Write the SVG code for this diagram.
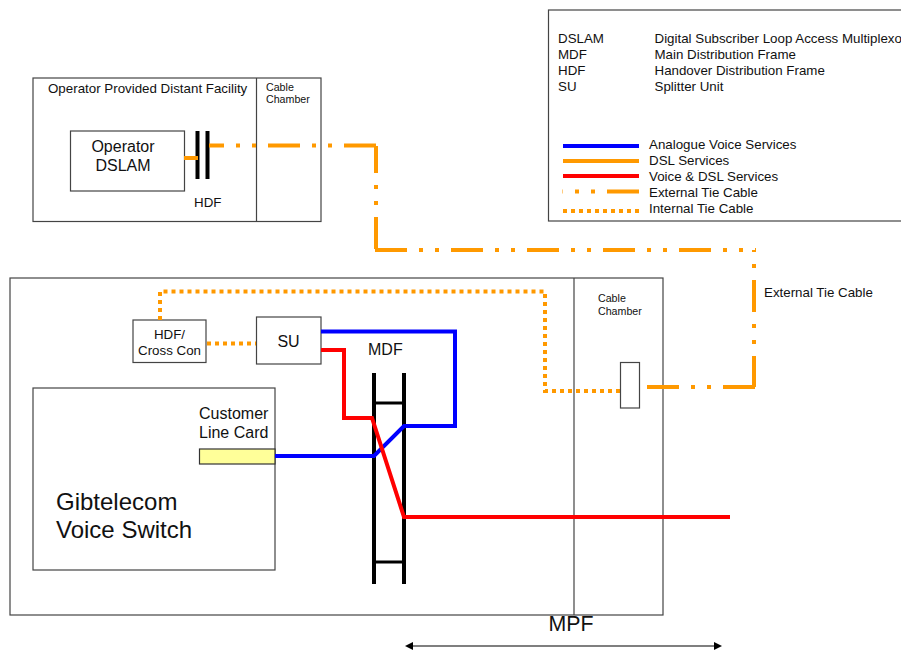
<svg xmlns="http://www.w3.org/2000/svg" width="901" height="650" viewBox="0 0 901 650">
<defs>
<marker id="ah" viewBox="0 0 8 8" refX="0" refY="4" markerWidth="8" markerHeight="8" markerUnits="userSpaceOnUse" orient="auto-start-reverse"><path d="M0 0L8 4L0 8Z" fill="#000"/></marker>
</defs>
<style>
text{font-family:"Liberation Sans",Arial,sans-serif;fill:#111}
.b{fill:#fff;stroke:#444;stroke-width:1.2}
.n{fill:none;stroke:#444;stroke-width:1.2}
.k{fill:none;stroke:#000;stroke-width:4}
.o{fill:none;stroke:#f90;stroke-width:4}
.x{stroke-dasharray:32 12 4 12 4 12}
.d{stroke-dasharray:4 4}
.bl{fill:none;stroke:#00f;stroke-width:4}
.r{fill:none;stroke:#f00;stroke-width:4}
.t13{font-size:13.33px}.t10{font-size:10.67px}.t16{font-size:16px}.t24{font-size:24px}
</style>
<g id="legend">
<rect class="b" x="548.500" y="10" width="360" height="211"/>
<text class="t13" x="558" y="43">DSLAM</text><text class="t13" x="654.500" y="43">Digital Subscriber Loop Access Multiplexor</text>
<text class="t13" x="558" y="59">MDF</text><text class="t13" x="654.500" y="59">Main Distribution Frame</text>
<text class="t13" x="558" y="75">HDF</text><text class="t13" x="654.500" y="75">Handover Distribution Frame</text>
<text class="t13" x="558" y="91">SU</text><text class="t13" x="654.500" y="91">Splitter Unit</text>
<line class="bl" x1="563" y1="146" x2="639" y2="146"/>
<line class="o" x1="563" y1="161" x2="639" y2="161"/>
<line class="r" x1="563" y1="176" x2="639" y2="176"/>
<line class="o x" x1="639" y1="191.500" x2="562.500" y2="191.500"/>
<line class="o d" x1="563" y1="211" x2="640" y2="211"/>
<text class="t13" x="649" y="149">Analogue Voice Services</text>
<text class="t13" x="649" y="165">DSL Services</text>
<text class="t13" x="649" y="181">Voice &amp; DSL Services</text>
<text class="t13" x="649" y="197">External Tie Cable</text>
<text class="t13" x="649" y="213">Internal Tie Cable</text>
</g>
<g id="distant-facility">
<rect class="b" x="33" y="78" width="288" height="143.500"/>
<line class="n" x1="256.500" y1="78" x2="256.500" y2="221"/>
<text class="t13" x="48" y="93">Operator Provided Distant Facility</text>
<text class="t10" x="266" y="91">Cable</text>
<text class="t10" x="266" y="103">Chamber</text>
<text class="t13" x="194" y="207">HDF</text>
</g>
<g id="operator-dslam">
<rect class="b" x="70.500" y="131" width="114" height="60"/>
<text class="t16" x="123" y="152" text-anchor="middle">Operator</text>
<text class="t16" x="123" y="171" text-anchor="middle">DSLAM</text>
</g>
<g id="exchange">
<rect class="b" x="10" y="278" width="653" height="337"/>
<line class="n" x1="574" y1="278" x2="574" y2="615"/>
<text class="t10" x="598" y="302">Cable</text>
<text class="t10" x="598" y="315">Chamber</text>
<text class="t13" x="764" y="297">External Tie Cable</text>
<text class="t16" x="368" y="355">MDF</text>
</g>
<g id="voice-switch">
<rect class="b" x="33" y="388" width="242" height="182"/>
<text class="t24" x="56" y="510">Gibtelecom</text>
<text class="t24" x="56" y="538">Voice Switch</text>
</g>
<g id="line-card">
<rect x="199.500" y="449" width="75.500" height="15" fill="#ffff99" stroke="#333" stroke-width="1.200"/>
<text class="t16" x="199" y="419">Customer</text>
<text class="t16" x="199" y="438">Line Card</text>
</g>
<g id="hdf-cross-con">
<rect class="b" x="133" y="320" width="73" height="42.500"/>
<text class="t13" x="169.500" y="339" text-anchor="middle">HDF/</text>
<text class="t13" x="169.500" y="355" text-anchor="middle">Cross Con</text>
</g>
<g id="su">
<rect class="b" x="256.500" y="317" width="64.500" height="47"/>
<text class="t16" x="288.500" y="347" text-anchor="middle">SU</text>
</g>
<g id="connectors">
<line class="k" x1="197.500" y1="131" x2="197.500" y2="179"/>
<line class="k" x1="207.500" y1="131" x2="207.500" y2="179"/>
<line class="o" x1="184" y1="158" x2="198" y2="158"/>
<line class="o x" x1="209" y1="145.500" x2="376" y2="145.500" stroke-dashoffset="17"/>
<line class="o x" x1="376" y1="146" x2="376" y2="250" stroke-dashoffset="5"/>
<line class="o x" x1="375" y1="250" x2="756" y2="250"/>
<line class="o x" x1="754" y1="250" x2="754" y2="387" stroke-dashoffset="46"/>
<line class="o x" x1="755" y1="387" x2="645" y2="387"/>
<path class="o d" d="M160 320V291.500H545V391H620"/>
<line class="o d" x1="207" y1="343.500" x2="256" y2="343.500"/>
<line class="k" x1="374" y1="373" x2="374" y2="584"/>
<line class="k" x1="404" y1="373" x2="404" y2="584"/>
<line class="k" x1="374" y1="403" x2="404" y2="403" style="stroke-width:3"/>
<line class="k" x1="374" y1="562" x2="404" y2="562" style="stroke-width:3"/>
<path class="bl" d="M321 331.500H455V426H404L374 456H275"/>
<path class="r" d="M321 350H344V418H372L404 517H730"/>
<line x1="413" y1="646" x2="714" y2="646" stroke="#000" stroke-width="1.200" marker-start="url(#ah)" marker-end="url(#ah)"/>
</g>
<g id="small-box"><rect class="b" x="620.500" y="362.500" width="19" height="45.500"/></g>
<g id="mpf"><text x="571" y="631" font-size="21.330" text-anchor="middle">MPF</text></g>
</svg>
